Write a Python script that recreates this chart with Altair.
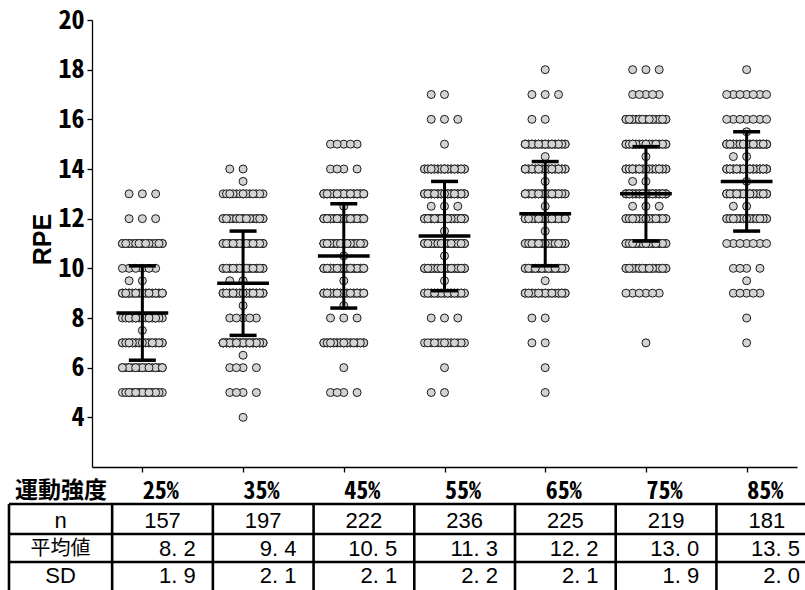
import json
import altair as alt
import pandas as pd

# ---- summary table -------------------------------------------------------
INTENSITY = ["25%", "35%", "45%", "55%", "65%", "75%", "85%"]
N_COUNT = [157, 197, 222, 236, 225, 219, 181]
MEAN_RPE = [8.2, 9.4, 10.5, 11.3, 12.2, 13.0, 13.5]
SD_RPE = [1.9, 2.1, 2.1, 2.2, 2.1, 1.9, 2.0]
ROW_LABELS = ["n", "平均値", "SD"]
HEADER = "運動強度"

# ---- individual RPE responses: level -> number of respondents -------------
RPE_25 = [5, 6, 7, 7.5, 8, 9, 9.5, 10, 11, 12, 13]
CNT_25 = [18, 20, 28, 1, 18, 34, 2, 6, 24, 3, 3]
RPE_35 = [4, 5, 6, 6.5, 7, 8, 8.5, 9, 9.5, 10, 11, 12, 13, 13.5, 14]
CNT_35 = [1, 4, 4, 1, 45, 5, 1, 40, 2, 26, 26, 24, 15, 1, 2]
RPE_45 = [5, 6, 7, 8, 8.5, 9, 9.5, 10, 10.5, 11, 12, 12.5, 13, 14, 15]
CNT_45 = [4, 1, 28, 3, 1, 34, 1, 34, 1, 37, 34, 1, 34, 4, 5]
RPE_55 = [5, 6, 7, 8, 9, 9.5, 10, 10.5, 11, 11.5, 12, 12.5, 13, 14, 15, 16, 17]
CNT_55 = [2, 1, 14, 3, 26, 1, 36, 1, 36, 1, 38, 3, 40, 28, 1, 3, 2]
RPE_65 = [5, 6, 7, 8, 9, 9.5, 10, 11, 11.5, 12, 12.5, 13, 13.5, 14, 14.5, 15, 16, 17, 18]
CNT_65 = [1, 1, 2, 2, 22, 1, 26, 30, 1, 34, 1, 32, 1, 32, 1, 32, 2, 3, 1]
RPE_75 = [7, 9, 10, 11, 12, 12.5, 13, 13.5, 14, 14.5, 15, 16, 17, 18]
CNT_75 = [1, 6, 24, 28, 28, 3, 36, 2, 30, 1, 28, 24, 5, 3]
RPE_85 = [7, 8, 9, 9.5, 10, 11, 12, 12.5, 13, 13.5, 14, 14.5, 15, 15.5, 16, 17, 18]
CNT_85 = [1, 1, 5, 1, 4, 7, 29, 2, 38, 1, 38, 2, 36, 1, 7, 7, 1]

LEVELS = [RPE_25, RPE_35, RPE_45, RPE_55, RPE_65, RPE_75, RPE_85]
COUNTS = [CNT_25, CNT_35, CNT_45, CNT_55, CNT_65, CNT_75, CNT_85]

# ---- layout --------------------------------------------------------------
W, H = 705, 447
PAD = {"left": 92, "top": 20, "right": 8, "bottom": 123}
GOTHIC = "Noto Sans Mono CJK JP, Noto Sans CJK JP, sans-serif"
NARROW = "Liberation Sans Narrow, Liberation Sans, Arial, sans-serif"
SANS = "Liberation Sans, Arial, sans-serif"

# dots at one level fan out over fixed slots (in slot widths), then repeat
SLOT_ORDER = [0, -2, 2, -1, 1, -3, 3, -2.5, 2.5, -0.5, 0.5, -1.5, 1.5]
SLOT_W = 0.066  # category units

dot_rows = []
for i, (levels, counts) in enumerate(zip(LEVELS, COUNTS)):
    for level, count in zip(levels, counts):
        for k in range(count):
            dot_rows.append({"pos": i + SLOT_ORDER[k % len(SLOT_ORDER)] * SLOT_W,
                             "rpe": level})
dots = pd.DataFrame(dot_rows)


def table_number(v):
    # one decimal, printed with the wide point used in the table
    return f"{v:.1f}".replace(".", ". ")


summary = pd.DataFrame({
    "idx": list(range(len(INTENSITY))),
    "label": INTENSITY,
    "n": [str(v) for v in N_COUNT],
    "mean": MEAN_RPE,
    "sd": SD_RPE,
    "mean_txt": [table_number(v) for v in MEAN_RPE],
    "sd_txt": [table_number(v) for v in SD_RPE],
})

xscale = alt.Scale(domain=[-0.5, 6.5], nice=False, zero=False)
yscale = alt.Scale(domain=[2, 20], nice=False, zero=False)
label_expr = json.dumps(INTENSITY) + "[datum.value]"

points = alt.Chart(dots).mark_circle(
    size=64, fill="#d3d3d3", stroke="#1a1a1a", strokeWidth=1, opacity=1
).encode(
    x=alt.X("pos:Q", scale=xscale, axis=alt.Axis(
        values=list(range(len(INTENSITY))), labelExpr=label_expr, title=None,
        grid=False, domainColor="black", domainWidth=1.3, tickColor="black",
        tickWidth=1.3, tickSize=5, labelFont=GOTHIC, labelFontSize=24,
        labelFontWeight="bold", labelColor="black", labelAlign="left",
        labelBaseline="middle", labelPadding=19, labelFlush=False,
        labelOverlap=False)),
    y=alt.Y("rpe:Q", scale=yscale, axis=alt.Axis(
        values=list(range(4, 21, 2)), title="RPE", grid=False,
        domainColor="black", domainWidth=1.3, tickColor="black", tickWidth=1.3,
        tickSize=5, labelFont=GOTHIC, labelFontSize=26, labelFontWeight="bold",
        labelColor="black", labelPadding=3, labelBaseline="middle",
        titleFont=SANS, titleFontSize=25, titleFontWeight="bold",
        titleColor="black", titleX=-42, titleY=219, titleAngle=270,
        titleAlign="center", titleBaseline="alphabetic")),
)

base = alt.Chart(summary).transform_calculate(
    lo="datum.mean - datum.sd", hi="datum.mean + datum.sd",
    cap_l="datum.idx - 0.134", cap_r="datum.idx + 0.134",
    mean_l="datum.idx - 0.257", mean_r="datum.idx + 0.257",
)

sd_bar = base.mark_rule(color="black", strokeWidth=3).encode(
    x=alt.X("idx:Q", scale=xscale), y=alt.Y("lo:Q", scale=yscale), y2="hi:Q")
cap_lo = base.mark_rule(color="black", strokeWidth=3.5).encode(
    x=alt.X("cap_l:Q", scale=xscale), x2="cap_r:Q", y=alt.Y("lo:Q", scale=yscale))
cap_hi = base.mark_rule(color="black", strokeWidth=3.5).encode(
    x=alt.X("cap_l:Q", scale=xscale), x2="cap_r:Q", y=alt.Y("hi:Q", scale=yscale))
mean_bar = base.mark_rule(color="black", strokeWidth=3.5).encode(
    x=alt.X("mean_l:Q", scale=xscale), x2="mean_r:Q",
    y=alt.Y("mean:Q", scale=yscale))

# ---- table under the axis -----------------------------------------------
TABLE_TOP = 484
ROW_LINES = [484, 514, 542]
ROW_MID = [501, 528.5, 556]
TABLE_BOTTOM = 575
LEFT_EDGE = -83
RIGHT_EDGE = 720
LABEL_COL_X = -31.5

header = alt.Chart(pd.DataFrame({"t": [HEADER]})).mark_text(
    font=GOTHIC, fontSize=23, fontWeight="bold", color="black",
    align="left", baseline="middle",
).encode(x=alt.value(-77), y=alt.value(471), text="t:N")

hlines = alt.Chart(pd.DataFrame({"py": ROW_LINES})).mark_rule(
    color="black", strokeWidth=2.6
).encode(x=alt.value(LEFT_EDGE), x2=alt.value(RIGHT_EDGE),
         y=alt.Y("py:Q", scale=None))

left_border = alt.Chart(pd.DataFrame({"t": [0]})).mark_rule(
    color="black", strokeWidth=2.6
).encode(x=alt.value(LEFT_EDGE), y=alt.value(TABLE_TOP),
         y2=alt.value(TABLE_BOTTOM))

vlines = base.transform_calculate(edge="datum.idx - 0.3").mark_rule(
    color="black", strokeWidth=2.6
).encode(x=alt.X("edge:Q", scale=xscale), y=alt.value(TABLE_TOP),
         y2=alt.value(TABLE_BOTTOM))

label_df = pd.DataFrame({"t": ROW_LABELS, "py": ROW_MID})
row_labels_latin = alt.Chart(label_df).transform_filter(
    "datum.t != '平均値'"
).mark_text(
    font=NARROW, fontSize=22, color="black", align="center", baseline="middle"
).encode(x=alt.value(LABEL_COL_X), y=alt.Y("py:Q", scale=None), text="t:N")
row_labels_cjk = alt.Chart(label_df).transform_filter(
    "datum.t == '平均値'"
).mark_text(
    font=GOTHIC, fontSize=20, color="black", align="center", baseline="middle"
).encode(x=alt.value(LABEL_COL_X), y=alt.Y("py:Q", scale=None), text="t:N")

n_text = base.transform_calculate(tx="datum.idx + 0.2").mark_text(
    font=NARROW, fontSize=22, color="black", align="center", baseline="middle"
).encode(x=alt.X("tx:Q", scale=xscale), y=alt.value(ROW_MID[0]), text="n:N")

mean_text = base.transform_calculate(tx="datum.idx + 0.53").mark_text(
    font=NARROW, fontSize=22, color="black", align="right", baseline="middle"
).encode(x=alt.X("tx:Q", scale=xscale), y=alt.value(ROW_MID[1]),
         text="mean_txt:N")

sd_text = base.transform_calculate(tx="datum.idx + 0.53").mark_text(
    font=NARROW, fontSize=22, color="black", align="right", baseline="middle"
).encode(x=alt.X("tx:Q", scale=xscale), y=alt.value(ROW_MID[2]),
         text="sd_txt:N")

chart = alt.layer(
    points, sd_bar, cap_lo, cap_hi, mean_bar,
    header, hlines, left_border, vlines, row_labels_latin, row_labels_cjk,
    n_text, mean_text, sd_text,
).properties(
    width=W, height=H,
    autosize=alt.AutoSizeParams(type="none"),
    padding=PAD,
    background="white",
).configure_view(stroke=None)

chart.save("out.html", embed_options={"renderer": "svg", "actions": False})
